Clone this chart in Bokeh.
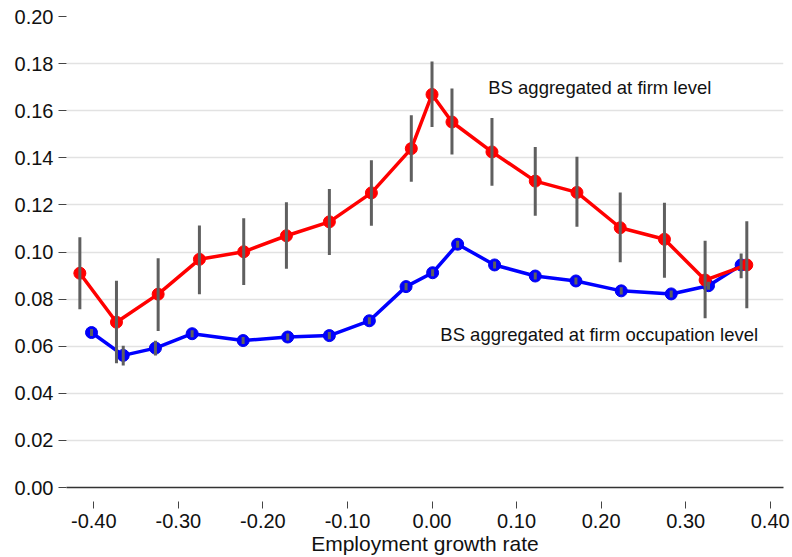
from bokeh.plotting import figure
from bokeh.models import Range1d, FixedTicker, PrintfTickFormatter, ColumnDataSource
from bokeh.core.properties import value
from bokeh.embed import file_html
from bokeh.resources import INLINE

# ---- data ----
firm_x = [-0.4165, -0.3732, -0.3239, -0.2751, -0.2227, -0.1722, -0.1214, -0.0717, -0.0245,
          0.0000, 0.0236, 0.0709, 0.1221, 0.1714, 0.2226, 0.2749, 0.3230, 0.3723]
firm_y = [0.0910, 0.0702, 0.0821, 0.0969, 0.1001, 0.1069, 0.1128, 0.1251, 0.1439,
          0.1669, 0.1552, 0.1425, 0.1301, 0.1253, 0.1103, 0.1054, 0.0881, 0.0945]
firm_lo = [0.0757, 0.0528, 0.0665, 0.0821, 0.0860, 0.0929, 0.0987, 0.1111, 0.1298,
           0.1531, 0.1414, 0.1281, 0.1154, 0.1107, 0.0956, 0.0891, 0.0719, 0.0761]
firm_hi = [0.1063, 0.0878, 0.0973, 0.1113, 0.1143, 0.1211, 0.1267, 0.1390, 0.1581,
           0.1809, 0.1694, 0.1569, 0.1446, 0.1404, 0.1253, 0.1209, 0.1048, 0.1131]

occ_x = [-0.4027, -0.3652, -0.3271, -0.2837, -0.2234, -0.1707, -0.1214, -0.0741, -0.0307,
         0.0007, 0.0303, 0.0740, 0.1221, 0.1702, 0.2238, 0.2829, 0.3270, 0.3656]
occ_y = [0.0658, 0.0561, 0.0592, 0.0653, 0.0624, 0.0639, 0.0645, 0.0708, 0.0853,
         0.0912, 0.1033, 0.0945, 0.0898, 0.0877, 0.0835, 0.0822, 0.0857, 0.0945]
occ_lo = [0.0643, 0.0518, 0.0561, 0.0638, 0.0609, 0.0624, 0.0630, 0.0693, 0.0838,
          0.0897, 0.1018, 0.0930, 0.0883, 0.0862, 0.0820, 0.0807, 0.0840, 0.0889]
occ_hi = [0.0673, 0.0602, 0.0623, 0.0668, 0.0639, 0.0654, 0.0660, 0.0723, 0.0868,
          0.0927, 0.1048, 0.0960, 0.0913, 0.0892, 0.0850, 0.0837, 0.0874, 0.0994]

x_ticks = [-0.4, -0.3, -0.2, -0.1, 0.0, 0.1, 0.2, 0.3, 0.4]
y_ticks = [0.0, 0.02, 0.04, 0.06, 0.08, 0.1, 0.12, 0.14, 0.16, 0.18, 0.2]
grid_ticks = [0.02, 0.04, 0.06, 0.08, 0.1, 0.12, 0.14, 0.16, 0.18]

label_firm = "BS aggregated at firm level"
label_occ = "BS aggregated at firm occupation level"
label_firm_pos = (0.0665, 0.1697)
label_occ_pos = (0.0098, 0.0648)
x_title = "Employment growth rate"

FONT = "Liberation Sans"

p = figure(width=792, height=557, output_backend="svg", toolbar_location=None,
           x_range=Range1d(-0.4323, 0.4157), y_range=Range1d(0.0, 0.2),
           min_border_left=66, min_border_right=9, min_border_top=16, min_border_bottom=69)
p.outline_line_color = None
p.background_fill_color = "white"
p.border_fill_color = "white"

# grid
p.xgrid.grid_line_color = None
p.ygrid.ticker = FixedTicker(ticks=grid_ticks)
p.ygrid.grid_line_color = "#e2e2e2"
p.ygrid.grid_line_width = 1.6

# x axis
xa = p.xaxis[0]
xa.ticker = FixedTicker(ticks=x_ticks)
xa.formatter = PrintfTickFormatter(format="%.2f")
xa.axis_line_color = "#333333"
xa.axis_line_width = 1.4
xa.major_tick_in = -14
xa.major_tick_out = 21
xa.major_tick_line_color = "#444444"
xa.major_tick_line_width = 1
xa.minor_tick_line_color = None
xa.major_label_text_font = FONT
xa.major_label_text_font_size = "20px"
xa.major_label_text_color = "#111111"
xa.major_label_standoff = 5
xa.axis_label = x_title
xa.axis_label_text_font = FONT
xa.axis_label_text_font_size = "21px"
xa.axis_label_text_font_style = "normal"
xa.axis_label_text_color = "#111111"
xa.axis_label_standoff = 1

# y axis
ya = p.yaxis[0]
ya.ticker = FixedTicker(ticks=y_ticks)
ya.formatter = PrintfTickFormatter(format="%.2f")
ya.axis_line_color = None
ya.major_tick_in = 0
ya.major_tick_out = 8
ya.major_tick_line_color = "#444444"
ya.major_tick_line_width = 1.2
ya.minor_tick_line_color = None
ya.major_label_text_font = FONT
ya.major_label_text_font_size = "20px"
ya.major_label_text_color = "#111111"
ya.major_label_standoff = 5

occ_src = ColumnDataSource(dict(x=occ_x, y=occ_y, lo=occ_lo, hi=occ_hi))
firm_src = ColumnDataSource(dict(x=firm_x, y=firm_y, lo=firm_lo, hi=firm_hi))

# occupation-level series (blue)
p.line("x", "y", source=occ_src, line_color="#0000ff", line_width=3.5)
p.scatter("x", "y", source=occ_src, size=12, fill_color="#0000ff", line_color="#0000ee")

# firm-level series (red)
p.line("x", "y", source=firm_src, line_color="#ff0000", line_width=3.5)
p.scatter("x", "y", source=firm_src, size=12, fill_color="#ff0000", line_color="#ff0000")

# confidence intervals
p.segment(x0="x", y0="lo", x1="x", y1="hi", source=occ_src, line_color="#5f5f5f", line_width=3)
p.segment(x0="x", y0="lo", x1="x", y1="hi", source=firm_src, line_color="#5f5f5f", line_width=3)

# annotations
p.text(x=[label_firm_pos[0]], y=[label_firm_pos[1]], text=[label_firm],
       text_font=value(FONT), text_font_size=value("18.5px"), text_color="#111111",
       text_align="left", text_baseline="middle")
p.text(x=[label_occ_pos[0]], y=[label_occ_pos[1]], text=[label_occ],
       text_font=value(FONT), text_font_size=value("18.5px"), text_color="#111111",
       text_align="left", text_baseline="middle")

open("out.html", "w").write(file_html(p, INLINE))
